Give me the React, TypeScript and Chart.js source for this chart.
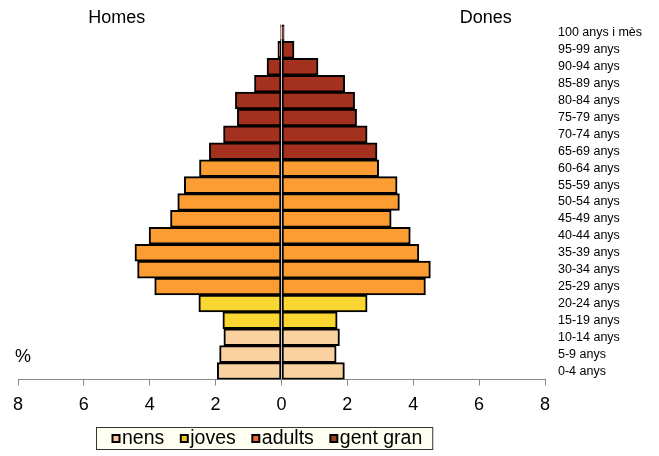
import React, { useEffect, useRef } from "react";
import { Chart, registerables } from "chart.js";

Chart.register(...registerables);

// youngest first (drawn bottom-up)
const ageGroups = [
  "0-4 anys", "5-9 anys", "10-14 anys", "15-19 anys", "20-24 anys",
  "25-29 anys", "30-34 anys", "35-39 anys", "40-44 anys", "45-49 anys",
  "50-54 anys", "55-59 anys", "60-64 anys", "65-69 anys", "70-74 anys",
  "75-79 anys", "80-84 anys", "85-89 anys", "90-94 anys", "95-99 anys",
  "100 anys i mès",
];
const homes = [
  1.95, 1.88, 1.75, 1.78, 2.51, 3.85, 4.37, 4.45, 4.02, 3.37, 3.15,
  2.95, 2.49, 2.19, 1.76, 1.34, 1.40, 0.82, 0.44, 0.11, 0.03,
];
const dones = [
  1.91, 1.66, 1.76, 1.69, 2.60, 4.37, 4.52, 4.17, 3.91, 3.33, 3.58,
  3.51, 2.95, 2.90, 2.60, 2.28, 2.22, 1.92, 1.11, 0.38, 0.08,
];
// group index per age group: 0 nens, 1 joves, 2 adults, 3 gent gran
const groupOf = [0, 0, 0, 1, 1, 2, 2, 2, 2, 2, 2, 2, 2, 3, 3, 3, 3, 3, 3, 3, 3];
const groupNames = ["nens", "joves", "adults", "gent gran"];
const barColors = ["#FAD2A0", "#F9D632", "#FB9D33", "#A3311E"];
const legendColors = ["#F9C89C", "#F2C81F", "#EE6A2D", "#9C3F1E"];
const xTicks = [-8, -6, -4, -2, 0, 2, 4, 6, 8];

const FONT = '"Liberation Sans", Arial, sans-serif';

const annotations = {
  id: "annotations",
  afterDraw(chart: any) {
    const ctx = chart.ctx;
    const x = chart.scales.x;
    const area = chart.chartArea;
    ctx.save();
    ctx.fillStyle = "#000";
    ctx.font = `18px ${FONT}`;
    ctx.textAlign = "center";
    ctx.textBaseline = "middle";
    ctx.fillText("Homes", x.getPixelForValue(-5), area.top - 6);
    ctx.fillText("Dones", x.getPixelForValue(6.2), area.top - 6);
    ctx.textAlign = "left";
    ctx.fillText("%", area.left - 3, area.bottom - 22);

    // legend box
    ctx.font = `19.5px ${FONT}`;
    const boxLeft = area.left + 78;
    const boxTop = area.bottom + 47.5;
    const boxH = 22;
    const widths = groupNames.map((n) => ctx.measureText(n).width);
    let total = 15.5;
    widths.forEach((w, i) => {
      total += 10.5 + w + (i < widths.length - 1 ? 15.5 : 10);
    });
    ctx.fillStyle = "#FFFFF2";
    ctx.fillRect(boxLeft, boxTop, total, boxH);
    ctx.strokeStyle = "#333";
    ctx.lineWidth = 1;
    ctx.strokeRect(boxLeft + 0.5, boxTop + 0.5, total, boxH);
    let cx = boxLeft + 15.5;
    const cy = boxTop + boxH / 2 + 0.5;
    groupNames.forEach((n, i) => {
      ctx.fillStyle = "#000";
      ctx.fillRect(cx, cy - 4.5, 9, 9);
      ctx.fillStyle = legendColors[i];
      ctx.fillRect(cx + 2, cy - 2.5, 5, 5);
      ctx.fillStyle = "#000";
      ctx.textBaseline = "middle";
      ctx.fillText(n, cx + 10.5, cy + 0.5);
      cx += 10.5 + widths[i] + 15.5;
    });
    ctx.restore();
  },
};

export default function App() {
  const ref = useRef<HTMLCanvasElement>(null);
  useEffect(() => {
    const colors = groupOf.map((g) => barColors[g]);
    const chart = new Chart(ref.current!, {
      type: "bar",
      data: {
        labels: ageGroups,
        datasets: [
          {
            label: "Homes",
            data: homes.map((v) => -v),
            backgroundColor: colors,
            borderColor: "#000",
            borderWidth: 2,
            borderSkipped: false,
            barPercentage: 1,
            categoryPercentage: 1,
          },
          {
            label: "Dones",
            data: dones,
            backgroundColor: colors,
            borderColor: "#000",
            borderWidth: 2,
            borderSkipped: false,
            barPercentage: 1,
            categoryPercentage: 1,
          },
        ],
      },
      options: {
        indexAxis: "y",
        animation: false,
        responsive: false,
        devicePixelRatio: 1,
        layout: { padding: { top: 24.5, left: 18, right: 0, bottom: 0 } },
        plugins: {
          legend: { display: false },
          tooltip: { enabled: false },
        },
        scales: {
          x: {
            stacked: true,
            min: -8,
            max: 8,
            afterBuildTicks: (scale: any) => {
              scale.ticks = xTicks.map((v) => ({ value: v }));
            },
            afterFit: (scale: any) => {
              scale.height = 76.5;
            },
            grid: {
              drawOnChartArea: false,
              drawTicks: true,
              tickLength: 6,
              color: "#888",
            },
            border: { color: "#888", width: 1 },
            ticks: {
              color: "#000",
              font: { family: FONT, size: 18 },
              padding: 9,
              maxRotation: 0,
              autoSkip: false,
              callback: (v: any) => String(Math.abs(Number(v))),
            },
          },
          y: {
            stacked: true,
            position: "right",
            reverse: true,
            afterFit: (scale: any) => {
              scale.width = 114;
            },
            grid: { display: false, drawTicks: false },
            border: { display: false },
            ticks: {
              color: "#000",
              font: { family: FONT, size: 12.5 },
              padding: 13,
              autoSkip: false,
            },
          },
        },
      },
      plugins: [annotations],
    });
    return () => chart.destroy();
  }, []);
  return (
    <div style={{ position: "fixed", left: 0, top: 0, width: 659, height: 456, background: "#fff" }}>
      <canvas ref={ref} width={659} height={456} style={{ display: "block" }} />
    </div>
  );
}
